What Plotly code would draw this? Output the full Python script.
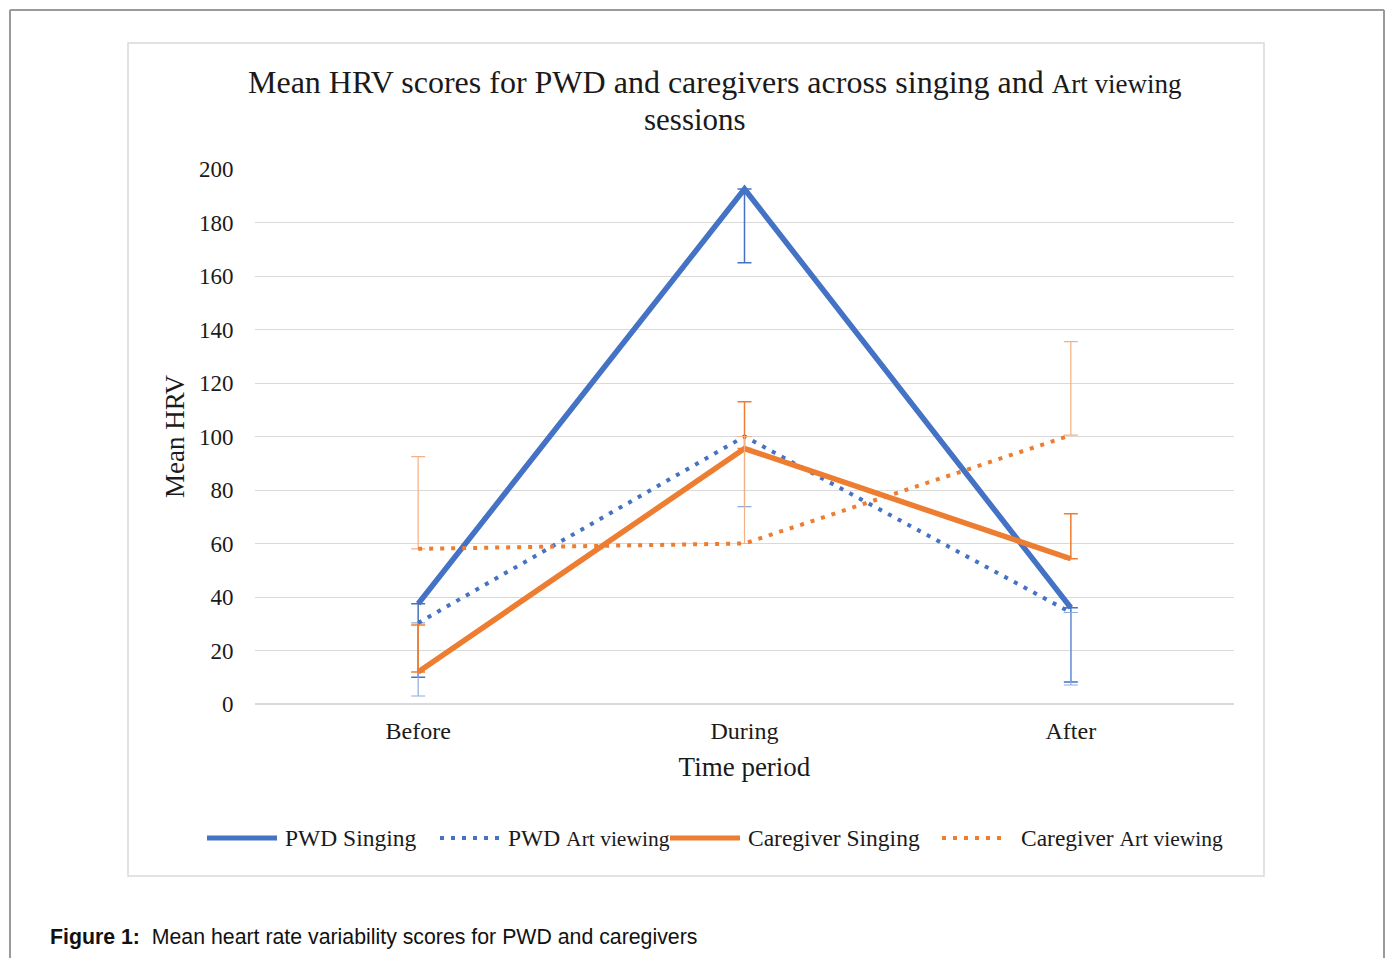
import plotly.graph_objects as go

# ---------------- data ----------------
periods = ["Before", "During", "After"]

pwd_singing = [37.5, 192.5, 36.0]
pwd_singing_err_minus = [27.5, 27.5, 27.8]

pwd_art = [30.3, 100.0, 34.2]
pwd_art_err_minus = [27.3, 26.2, 27.1]

cg_singing = [12.0, 95.5, 54.3]
cg_singing_err_plus = [17.5, 17.5, 16.8]

cg_art = [58.0, 60.0, 100.5]
cg_art_err_plus = [34.5, 40.0, 35.0]

y_ticks = [0, 20, 40, 60, 80, 100, 120, 140, 160, 180, 200]

# ---------------- styling ----------------
W, H = 1391, 958
BLUE = "#4472C4"
LBLUE = "#8FAADC"
ORANGE = "#ED7D31"
LORANGE = "#F4B183"
SERIF = "Liberation Serif, Times New Roman, serif"
TXT = "#1a1a1a"


def px(x):
    return x / W


def py(y):
    return 1 - y / H


fig = go.Figure()

fig.add_trace(go.Scatter(
    x=periods, y=pwd_singing, mode="lines", name="PWD Singing",
    line=dict(color=BLUE, width=5.5),
    error_y=dict(type="data", symmetric=False, array=[0, 0, 0],
                 arrayminus=pwd_singing_err_minus, color=BLUE,
                 thickness=1.5, width=7),
))
fig.add_trace(go.Scatter(
    x=periods, y=pwd_art, mode="lines", name="PWD Art viewing",
    line=dict(color=BLUE, width=4, dash="4px,7px"),
    error_y=dict(type="data", symmetric=False, array=[0, 0, 0],
                 arrayminus=pwd_art_err_minus, color=LBLUE,
                 thickness=1.2, width=7),
))
fig.add_trace(go.Scatter(
    x=periods, y=cg_singing, mode="lines", name="Caregiver Singing",
    line=dict(color=ORANGE, width=5.5),
    error_y=dict(type="data", symmetric=False, array=cg_singing_err_plus,
                 arrayminus=[0, 0, 0], color=ORANGE,
                 thickness=1.5, width=7),
))
fig.add_trace(go.Scatter(
    x=periods, y=cg_art, mode="lines", name="Caregiver Art viewing",
    line=dict(color=ORANGE, width=4, dash="4px,7px"),
    error_y=dict(type="data", symmetric=False, array=cg_art_err_plus,
                 arrayminus=[0, 0, 0], color=LORANGE,
                 thickness=1.2, width=7),
))

# ---------------- frames ----------------
shapes = [
    # outer page frame
    dict(type="line", xref="paper", yref="paper", x0=px(10), x1=px(10), y0=py(10), y1=py(960),
         line=dict(color="#9a9a9a", width=2)),
    dict(type="line", xref="paper", yref="paper", x0=px(1384), x1=px(1384), y0=py(10), y1=py(960),
         line=dict(color="#9a9a9a", width=2)),
    dict(type="line", xref="paper", yref="paper", x0=px(10), x1=px(1384), y0=py(10), y1=py(10),
         line=dict(color="#9a9a9a", width=2)),
    # chart area frame
    dict(type="rect", xref="paper", yref="paper", x0=px(128), x1=px(1264), y0=py(876), y1=py(43),
         line=dict(color="#d9d9d9", width=1.5)),
]

annotations = [
    dict(xref="paper", yref="paper", x=px(715), y=py(82), xanchor="center", yanchor="middle",
         showarrow=False,
         text="Mean HRV scores for PWD and caregivers across singing and "
              "<span style='font-size:27px'>Art viewing</span>",
         font=dict(family=SERIF, size=32, color=TXT)),
    dict(xref="paper", yref="paper", x=px(695), y=py(119), xanchor="center", yanchor="middle",
         showarrow=False, text="sessions",
         font=dict(family=SERIF, size=31, color=TXT)),
    dict(xref="paper", yref="paper", x=px(48), y=py(937), xanchor="left", yanchor="middle",
         showarrow=False,
         text="<b>Figure 1:</b>  Mean heart rate variability scores for PWD and caregivers",
         font=dict(family="Liberation Sans, Arial, sans-serif", size=21.3, color="#111111")),
]

# ---------------- manual legend ----------------
legend_items = [
    ("PWD Singing", BLUE, "solid", 207, 277, 283),
    ("PWD <span style='font-size:21.5px'>Art viewing</span>", BLUE, "dot", 440, 500, 506),
    ("Caregiver Singing", ORANGE, "solid", 670, 740, 746),
    ("Caregiver <span style='font-size:21.5px'>Art viewing</span>", ORANGE, "dot", 942, 1005, 1019),
]
ly = 838
for name, col, style, x0, x1, tx in legend_items:
    shapes.append(dict(type="line", xref="paper", yref="paper", x0=px(x0), x1=px(x1),
                       y0=py(ly), y1=py(ly),
                       line=dict(color=col, width=5 if style == "solid" else 4,
                                 dash="solid" if style == "solid" else "4px,7px")))
    annotations.append(dict(xref="paper", yref="paper", x=px(tx), y=py(ly), xanchor="left",
                            yanchor="middle", showarrow=False, text=name,
                            font=dict(family=SERIF, size=23.5, color=TXT)))

fig.update_layout(
    width=W, height=H,
    margin=dict(l=0, r=0, t=0, b=0, pad=0, autoexpand=False),
    paper_bgcolor="white", plot_bgcolor="white",
    showlegend=False,
    shapes=shapes, annotations=annotations,
    xaxis=dict(domain=[px(255), px(1234)], type="category", range=[-0.5, 2.5],
               automargin=False,
               showgrid=False, zeroline=False, showline=False,
               ticks="outside", ticklen=5, tickcolor="rgba(0,0,0,0)",
               tickfont=dict(family=SERIF, size=24, color=TXT),
               title=dict(text="Time period", font=dict(family=SERIF, size=27, color=TXT),
                          standoff=14)),
    yaxis=dict(domain=[py(704), py(169)], range=[0, 200], tickvals=y_ticks,
               automargin=False,
               showgrid=True, gridcolor="#d9d9d9", gridwidth=1,
               zeroline=True, zerolinecolor="#d9d9d9", zerolinewidth=1.5,
               showline=False,
               ticks="outside", ticklen=16, tickcolor="rgba(0,0,0,0)",
               tickfont=dict(family=SERIF, size=23, color=TXT),
               title=dict(text="Mean HRV", font=dict(family=SERIF, size=27, color=TXT),
                          standoff=6)),
)

fig.write_html(
    "out.html",
    config={"displayModeBar": False},
    post_script="document.body.style.margin='0';"
                "document.documentElement.style.overflow='hidden';"
                "document.body.style.overflow='hidden';",
)
